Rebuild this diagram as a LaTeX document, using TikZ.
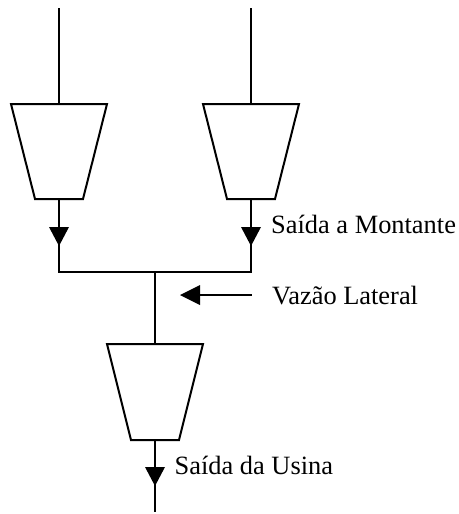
\documentclass[tikz,border=0pt]{standalone}
\usepackage{fontspec}
\setmainfont{Liberation Serif}
\tikzset{
  wire/.style={line width=2pt},
  trap/.style={line width=2pt,fill=white,miter limit=10},
  tip/.style={fill=black,draw=none},
  lbl/.style={font=\fontsize{26.4}{30}\selectfont,anchor=base west,inner sep=0pt},
  x=1pt,y=-1pt
}
\begin{document}
\begin{tikzpicture}
\useasboundingbox (0,0) rectangle (458,514);
\coordinate (t1) at (59,8);
\coordinate (t2) at (251,8);
\coordinate (a1) at (59,104);
\coordinate (a2) at (251,104);
\coordinate (b1) at (59,199);
\coordinate (b2) at (251,199);
\coordinate (j1) at (59,272);
\coordinate (j2) at (251,272);
\coordinate (j) at (155,272);
\coordinate (c) at (155,344);
\coordinate (d) at (155,440);
\coordinate (e) at (155,512);
\coordinate (f) at (252,295);
\coordinate (g) at (200,295);
\draw[wire] (t1)--(a1);
\draw[wire] (t2)--(a2);
\draw[trap] (11,104)--(107,104)--(83,199)--(35,199)--cycle;
\draw[trap] (203,104)--(299,104)--(275,199)--(227,199)--cycle;
\draw[wire] (b1)--(j1)--(j2)--(b2);
\draw[wire] (j)--(c);
\draw[trap] (107,344)--(203,344)--(179,440)--(131,440)--cycle;
\draw[wire] (d)--(e);
\fill[tip] (49,227)--(69,227)--(59,246)--cycle;
\fill[tip] (241,227)--(261,227)--(251,246)--cycle;
\fill[tip] (145,467)--(165,467)--(155,486)--cycle;
\fill[tip] (180,295)--(200,285)--(200,305)--cycle;
\draw[wire] (g)--(f);
\node[lbl] (s1) at (271,233.5) {Saída a Montante};
\node[lbl] (s2) at (272,304.5) {Vazão Lateral};
\node[lbl] (s3) at (174.5,474) {Saída da Usina};
\end{tikzpicture}
\end{document}
